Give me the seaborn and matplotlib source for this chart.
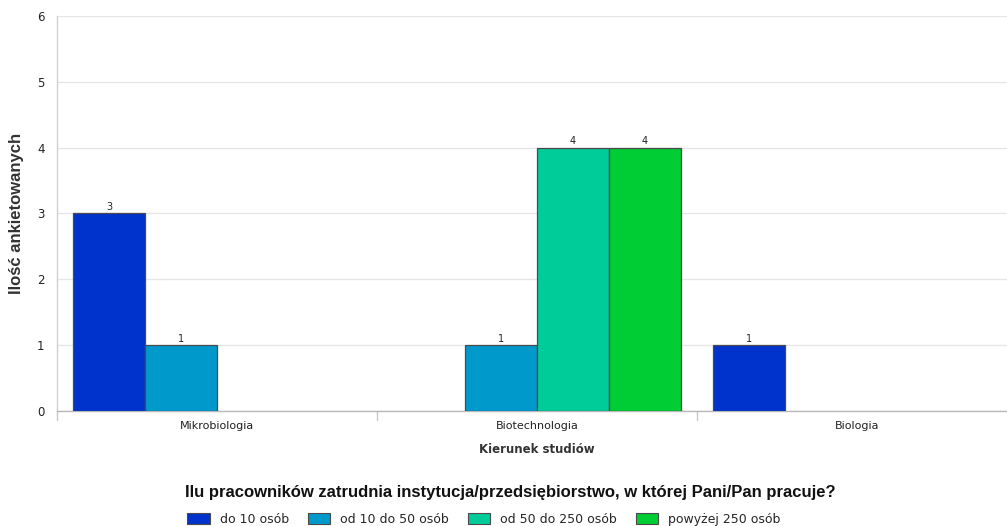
import matplotlib
matplotlib.use("Agg")
import matplotlib.pyplot as plt
import seaborn as sns
import pandas as pd

# Survey responses by field of study and employer size
kierunki = ["Mikrobiologia", "Biotechnologia", "Biologia"]
grupy = ["do 10 osób", "od 10 do 50 osób", "od 50 do 250 osób", "powyżej 250 osób"]
do_10 = [3, 0, 1]
od_10_do_50 = [1, 1, 0]
od_50_do_250 = [0, 4, 0]
powyzej_250 = [0, 4, 0]
kolory = ["#0033CC", "#0099CC", "#00CC99", "#00CC33"]

serie = [do_10, od_10_do_50, od_50_do_250, powyzej_250]
rows = []
for g, vals in zip(grupy, serie):
    for k, v in zip(kierunki, vals):
        rows.append({"Kierunek": k, "Grupa": g, "Ilosc": v})
df = pd.DataFrame(rows)

sns.set_theme(style="white")
plt.rcParams["font.family"] = ["DejaVu Sans"]

W, H = 1007, 526
fig = plt.figure(figsize=(W / 100, H / 100), dpi=100)
ax = fig.add_axes([57 / W, (H - 411) / H, 960 / W, 395 / H])

sns.barplot(data=df, x="Kierunek", y="Ilosc", hue="Grupa", order=kierunki,
            hue_order=grupy, palette=kolory, width=0.9, edgecolor="#4a4a4a",
            linewidth=0.9, saturation=1, ax=ax, legend=False, zorder=3)

# value labels above non-empty bars; empty bars get no outline
for cont in ax.containers:
    for b in cont:
        if b.get_height() <= 0:
            b.set_linewidth(0)
    labels = [f"{int(b.get_height())}" if b.get_height() > 0 else "" for b in cont]
    ax.bar_label(cont, labels=labels, fontsize=7, padding=1, color="#222222")

ax.set_xlim(-0.5, 2.5)
ax.set_ylim(0, 6)
ax.set_yticks(range(0, 7))
ax.yaxis.grid(True, color="#e6e6e6", linewidth=0.9, zorder=0)
ax.set_axisbelow(True)

for s in ["top", "right"]:
    ax.spines[s].set_visible(False)
ax.spines["left"].set_color("#d0d0d0")
ax.spines["bottom"].set_color("#b8b8b8")
ax.spines["left"].set_linewidth(1)
ax.spines["bottom"].set_linewidth(1)

ax.tick_params(axis="y", length=0, labelsize=8.5, pad=9, labelcolor="#222222")
ax.tick_params(axis="x", length=0, labelsize=8, pad=7, labelcolor="#222222")

# category separators on the bottom axis
for xb in [-0.5, 0.5, 1.5]:
    ax.plot([xb, xb], [0, -0.14], color="#c8c8c8", linewidth=1,
            clip_on=False, zorder=1)

ax.set_xlabel("Kierunek studiów", fontsize=8.5, fontweight="bold",
              color="#333333", labelpad=9)
ax.set_ylabel("Ilość ankietowanych", fontsize=12, fontweight="bold",
              color="#333333", labelpad=9, family=["Liberation Sans", "DejaVu Sans"])

fig.text(510 / W, 1 - 492 / H,
         "Ilu pracowników zatrudnia instytucja/przedsiębiorstwo, w której Pani/Pan pracuje?",
         ha="center", va="center", fontsize=12, fontweight="bold", color="#111111",
         family=["Liberation Sans Narrow", "Liberation Sans", "DejaVu Sans"])

handles = [plt.Rectangle((0, 0), 1, 1, facecolor=c, edgecolor="#4a4a4a", linewidth=0.8)
           for c in kolory]
fig.legend(handles, grupy, loc="center", bbox_to_anchor=(484 / W, 1 - 519.5 / H),
           ncol=4, frameon=False, fontsize=9, handlelength=1.8, handleheight=1.0,
           handletextpad=0.8, columnspacing=1.5, borderaxespad=0, borderpad=0)

fig.savefig("out.png", dpi=100)
